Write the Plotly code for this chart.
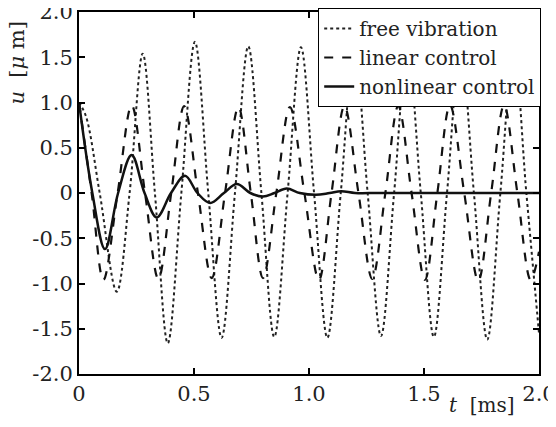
import plotly.graph_objects as go

# ---- data ----
t_free = [0, 0.03, 0.09, 0.164, 0.22, 0.277, 0.33, 0.386, 0.445, 0.504, 0.562, 0.62, 0.678,
          0.736, 0.793, 0.849, 0.907, 0.965, 1.022, 1.08, 1.138, 1.197, 1.255, 1.313, 1.37,
          1.428, 1.486, 1.543, 1.60, 1.659, 1.717, 1.775, 1.832, 1.89, 1.945, 2.0]
u_free = [1.0, 0.85, 0.0, -1.09, 0.0, 1.54, 0.0, -1.66, 0.0, 1.67, 0.0, -1.60, 0.0,
          1.62, 0.0, -1.59, 0.0, 1.61, 0.0, -1.60, 0.0, 1.61, 0.0, -1.58, 0.0,
          1.60, 0.0, -1.59, 0.0, 1.60, 0.0, -1.62, 0.0, 1.60, 0.0, -1.55]

t_lin = [0, 0.055, 0.106, 0.168, 0.229, 0.287, 0.345, 0.401, 0.457, 0.517, 0.577, 0.635,
         0.693, 0.747, 0.80, 0.858, 0.917, 0.98, 1.043, 1.098, 1.154, 1.215, 1.275, 1.332,
         1.388, 1.446, 1.504, 1.558, 1.613, 1.675, 1.736, 1.792, 1.848, 1.906, 1.964, 2.0]
u_lin = [1.0, 0.0, -0.96, 0.0, 0.97, 0.0, -0.95, 0.0, 0.96, 0.0, -0.94, 0.0,
         0.95, 0.0, -0.94, 0.0, 0.95, 0.0, -0.96, 0.0, 0.96, 0.0, -0.95, 0.0,
         0.96, 0.0, -0.96, 0.0, 0.97, 0.0, -0.97, 0.0, 0.97, 0.0, -0.96, -0.65]

t_nl = [0, 0.058, 0.113, 0.17, 0.229, 0.285, 0.338, 0.40, 0.461, 0.515, 0.57, 0.63,
        0.686, 0.745, 0.80, 0.85, 0.903, 0.96, 1.03, 1.09, 1.14, 1.20, 1.30, 1.50, 1.70, 2.0]
u_nl = [1.0, 0.0, -0.62, 0.0, 0.42, 0.0, -0.27, 0.0, 0.19, 0.0, -0.11, 0.0,
        0.10, 0.0, -0.04, 0.0, 0.05, 0.0, -0.02, 0.0, 0.02, 0.0, 0.0, 0.0, 0.0, 0.0]

x_ticks = [0, 0.5, 1.0, 1.5, 2.0]
x_tick_labels = ["0", "0.5", "1.0", "1.5", "2.0"]
y_ticks = [-2.0, -1.5, -1.0, -0.5, 0, 0.5, 1.0, 1.5, 2.0]
y_tick_labels = ["-2.0", "-1.5", "-1.0", "-0.5", "0", "0.5", "1.0", "1.5", "2.0"]

series_names = ["free vibration", "linear control", "nonlinear control"]

FONT = "DejaVu Serif"
TICK_FONT = dict(family=FONT, size=21, color="#222")

fig = go.Figure()
fig.add_trace(go.Scatter(x=t_free, y=u_free, mode="lines", name=series_names[0],
                         line=dict(color="#222", width=2, dash="dot", shape="spline", smoothing=1.0)))
fig.add_trace(go.Scatter(x=t_lin, y=u_lin, mode="lines", name=series_names[1],
                         line=dict(color="#111", width=2.2, dash="dash", shape="spline", smoothing=1.0)))
fig.add_trace(go.Scatter(x=t_nl, y=u_nl, mode="lines", name=series_names[2],
                         line=dict(color="#111", width=2.5, shape="spline", smoothing=1.0)))

fig.update_xaxes(range=[0, 2.0], tickmode="array", tickvals=x_ticks, ticktext=x_tick_labels,
                 showline=True, linecolor="black", linewidth=2, mirror="allticks",
                 ticks="inside", ticklen=6, tickwidth=1.5, tickcolor="black",
                 ticklabeloverflow="allow",
                 showgrid=False, zeroline=False, automargin=False, tickfont=TICK_FONT)
fig.update_yaxes(range=[-2.0, 2.0], tickmode="array", tickvals=y_ticks, ticktext=y_tick_labels,
                 showline=True, linecolor="black", linewidth=2, mirror="allticks",
                 ticks="inside", ticklen=6, tickwidth=1.5, tickcolor="black",
                 ticklabeloverflow="allow",
                 showgrid=False, zeroline=False, automargin=False, tickfont=TICK_FONT)

# the page body has an 8px margin, so the figure is shrunk by 8px and the top/left margins shifted
fig.update_layout(
    width=548, height=419,
    margin=dict(l=71, r=17, t=4, b=53, autoexpand=False),
    paper_bgcolor="white", plot_bgcolor="white",
    showlegend=True,
    legend=dict(x=0.52, xanchor="left", y=1.011, yanchor="top",
                bgcolor="white", bordercolor="black", borderwidth=1,
                font=dict(family=FONT, size=20, color="#222"),
                tracegroupgap=0, itemwidth=30),
)
fig.add_annotation(text="<i>u</i>\u00a0\u00a0[<i>μ</i>\u00a0m]", xref="paper", yref="paper",
                   x=-0.135, y=0.86, xanchor="center", yanchor="middle",
                   textangle=-90, showarrow=False,
                   font=dict(family=FONT, size=21, color="#222"))
fig.add_annotation(text="<i>t</i>\u00a0\u00a0[ms]", xref="paper", yref="paper",
                   x=0.876, y=-0.086, xanchor="center", yanchor="middle", showarrow=False,
                   font=dict(family=FONT, size=20, color="#222"))

fig.write_html("out.html")
